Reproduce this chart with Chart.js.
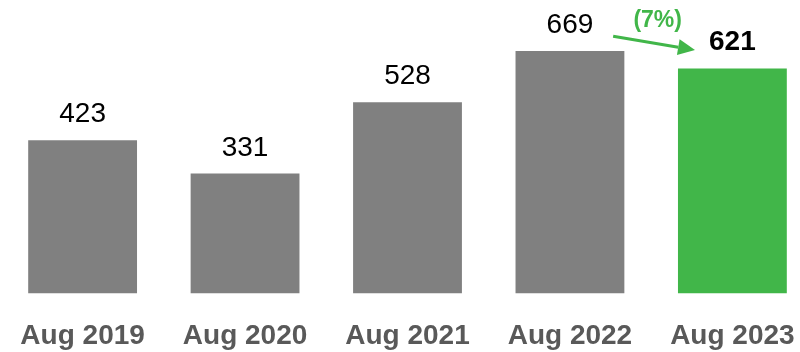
<!DOCTYPE html>
<html>
<head>
<meta charset="utf-8">
<script src="https://cdn.jsdelivr.net/npm/chart.js@4"></script>
<style>
  html, body { margin: 0; padding: 0; background: #fff; overflow: hidden; }
  #wrap { width: 825px; height: 379px; margin-left: -5px; }
</style>
</head>
<body>
<div id="wrap"><canvas id="chart"></canvas></div>
<script>
const CATEGORIES = ['Aug 2019', 'Aug 2020', 'Aug 2021', 'Aug 2022', 'Aug 2023'];
const VALUES = [423, 331, 528, 669, 621];
const BAR_COLORS = ['#808080', '#808080', '#808080', '#808080', '#41b649'];
const HIGHLIGHT = 4;
const CHANGE_LABEL = '(7%)';

const GREEN = '#41b649';
const FONT = "'Liberation Sans', Arial, sans-serif";

// value labels over each bar
const valueLabels = {
    id: 'valueLabels',
    afterDatasetsDraw(chart) {
        const ctx = chart.ctx;
        const meta = chart.getDatasetMeta(0);
        ctx.save();
        ctx.textAlign = 'center';
        ctx.textBaseline = 'alphabetic';
        ctx.fillStyle = '#000';
        meta.data.forEach((bar, i) => {
            ctx.font = (i === HIGHLIGHT ? 'bold ' : '') + '28px ' + FONT;
            ctx.fillText(String(VALUES[i]), bar.x, bar.y - 18);
        });
        ctx.restore();
    }
};

// arrow from last-but-one to last bar with % change
const changeArrow = {
    id: 'changeArrow',
    afterDatasetsDraw(chart) {
        const { ctx, scales: { x, y } } = chart;
        const step = x.getPixelForValue(4) - x.getPixelForValue(3);
        const x0 = x.getPixelForValue(3) + 0.266 * step;
        const x1 = x.getPixelForValue(3) + 0.77 * step;
        const y0 = y.getPixelForValue(710);
        const y1 = y.getPixelForValue(672);
        const ang = Math.atan2(y1 - y0, x1 - x0);
        const head = 17, hw = 8;
        const bx = x1 - head * Math.cos(ang), by = y1 - head * Math.sin(ang);

        ctx.save();
        ctx.strokeStyle = GREEN;
        ctx.fillStyle = GREEN;
        ctx.lineWidth = 3;
        ctx.beginPath();
        ctx.moveTo(x0, y0);
        ctx.lineTo(bx, by);
        ctx.stroke();
        ctx.beginPath();
        ctx.moveTo(x1, y1);
        ctx.lineTo(bx + hw * Math.sin(ang), by - hw * Math.cos(ang));
        ctx.lineTo(bx - hw * Math.sin(ang), by + hw * Math.cos(ang));
        ctx.closePath();
        ctx.fill();

        ctx.font = 'bold 23px ' + FONT;
        ctx.textAlign = 'center';
        ctx.textBaseline = 'middle';
        ctx.fillText(CHANGE_LABEL, x.getPixelForValue(3) + 0.54 * step, y.getPixelForValue(752));
        ctx.restore();
    }
};

new Chart(document.getElementById('chart'), {
    type: 'bar',
    data: {
        labels: CATEGORIES,
        datasets: [{
            data: VALUES,
            backgroundColor: BAR_COLORS,
            barPercentage: 0.67,
            categoryPercentage: 1,
        }],
    },
    options: {
        responsive: true,
        maintainAspectRatio: false,
        animation: false,
        events: [],
        layout: { padding: 0 },
        plugins: { legend: { display: false }, tooltip: { enabled: false } },
        scales: {
            x: {
                grid: { display: false, drawTicks: false, tickLength: 0 },
                border: { display: false },
                ticks: {
                    color: '#595959',
                    padding: 26,
                    font: { family: FONT, size: 28, weight: 'bold' },
                },
            },
            y: {
                display: false,
                min: 0,
                max: 810,
            },
        },
    },
    plugins: [valueLabels, changeArrow],
});
</script>
</body>
</html>
